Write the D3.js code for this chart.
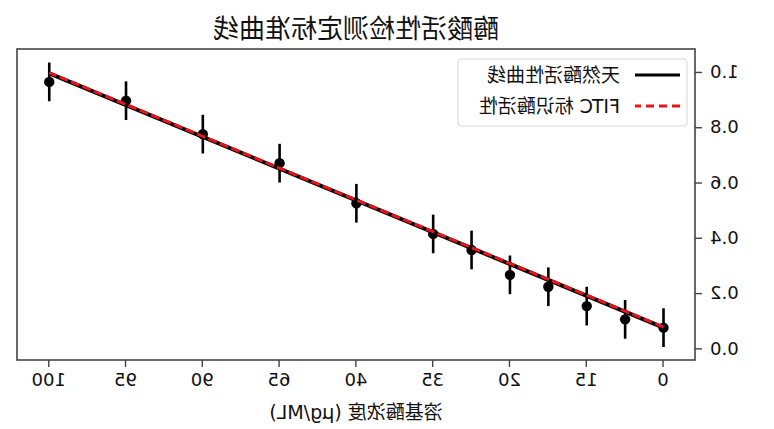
<!DOCTYPE html>
<html>
<head>
  <meta charset="utf-8">
  <title>酶酸活性检测定标准曲线</title>
  <script src="https://cdn.jsdelivr.net/npm/d3@7"></script>
  <style>
    body { margin: 0; background: #fff; }
    /* the reference picture is a mirror image, so the whole chart is flipped */
    #chart { transform: scaleX(-1); display: block; }
    text { font-family: "DejaVu Sans", "Noto Sans CJK SC", sans-serif; fill: #111; }
  </style>
</head>
<body>
  <svg id="chart" width="774" height="429"></svg>

  <script>
    // tick positions along x and the labels printed under them
    var tickPos = [0, 1, 2, 3, 4, 5, 6, 7, 8];
    var tickLabels = ['0', '15', '20', '35', '40', '65', '90', '95', '100'];
    var yTicks = [0.0, 0.2, 0.4, 0.6, 0.8, 1.0];

    // measured points (x in tick units)
    var pointX = [0, 0.5, 1, 1.5, 2, 2.5, 3, 4, 5, 6, 7, 8];
    var pointY = [0.075, 0.105, 0.153, 0.223, 0.266, 0.356, 0.414, 0.525, 0.670, 0.775, 0.896, 0.964];
    var pointErr = [0.07, 0.07, 0.07, 0.07, 0.07, 0.07, 0.07, 0.07, 0.07, 0.07, 0.07, 0.07];

    // fitted curves: [start, end]
    var lineX = [0, 8];
    var naturalY = [0.075, 0.995];
    var fitcY = [0.077, 0.997];

    var legendNames = ['天然酶活性曲线', 'FITC 标识酶活性'];

    var svg = d3.select('#chart'),
      margin = { left: 79, right: 17, top: 49, bottom: 69 },
      width = +svg.attr('width'),
      height = +svg.attr('height');

    var x = d3.scaleLinear().domain([-0.41, 8.42]).range([margin.left, width - margin.right]);
    var y = d3.scaleLinear().domain([-0.042, 1.083]).range([height - margin.bottom, margin.top]);

    // error bars
    svg.append('g')
      .selectAll('line')
      .data(pointX)
      .enter()
      .append('line')
      .attr('x1', (d, i) => x(d))
      .attr('x2', (d, i) => x(d))
      .attr('y1', (d, i) => y(pointY[i] - pointErr[i]))
      .attr('y2', (d, i) => y(pointY[i] + pointErr[i]))
      .attr('stroke', '#000')
      .attr('stroke-width', 2.6);

    svg.append('g')
      .selectAll('circle')
      .data(pointX)
      .enter()
      .append('circle')
      .attr('cx', d => x(d))
      .attr('cy', (d, i) => y(pointY[i]))
      .attr('r', 5.2)
      .attr('fill', '#000');

    var line = d3.line()
      .x((d, i) => x(lineX[i]))
      .y(d => y(d));

    svg.append('path')
      .attr('d', line(naturalY))
      .attr('fill', 'none')
      .attr('stroke', '#000')
      .attr('stroke-width', 4);

    svg.append('path')
      .attr('d', line(fitcY))
      .attr('fill', 'none')
      .attr('stroke', '#e8141a')
      .attr('stroke-width', 3)
      .attr('stroke-dasharray', '9,3.4');

    // frame
    svg.append('rect')
      .attr('x', margin.left)
      .attr('y', margin.top)
      .attr('width', width - margin.left - margin.right)
      .attr('height', height - margin.top - margin.bottom)
      .attr('fill', 'none')
      .attr('stroke', '#444')
      .attr('stroke-width', 1.6);

    var xAxis = svg.append('g')
      .attr('transform', 'translate(0,' + (height - margin.bottom) + ')')
      .call(d3.axisBottom(x).tickValues(tickPos).tickFormat((d, i) => tickLabels[i]).tickSize(7).tickPadding(6));

    var yAxis = svg.append('g')
      .attr('transform', 'translate(' + margin.left + ',0)')
      .call(d3.axisLeft(y).tickValues(yTicks).tickFormat(d3.format('.1f')).tickSize(7).tickPadding(8));

    [xAxis, yAxis].forEach(a => {
      a.select('.domain').remove();
      a.selectAll('.tick line').attr('stroke', '#444').attr('stroke-width', 1.4);
      a.selectAll('.tick text').style('font-size', '18px').attr('fill', '#111');
    });

    svg.append('text')
      .attr('x', (margin.left + width - margin.right) / 2)
      .attr('y', 38)
      .attr('text-anchor', 'middle')
      .style('font-size', '26px')
      .text('酶酸活性检测定标准曲线');

    svg.append('text')
      .attr('x', (margin.left + width - margin.right) / 2)
      .attr('y', 419)
      .attr('text-anchor', 'middle')
      .style('font-size', '19px')
      .text('溶基酶浓度 (μg/ML)');

    // legend
    var legend = svg.append('g');
    legend.append('rect')
      .attr('x', 87).attr('y', 59)
      .attr('width', 229).attr('height', 67)
      .attr('rx', 3)
      .attr('fill', '#fff')
      .attr('fill-opacity', 0.85)
      .attr('stroke', '#d6d6d6');

    var rows = [
      { color: '#000', dash: null, w: 3.2 },
      { color: '#e8141a', dash: '8,5', w: 2.8 }
    ];
    rows.forEach((r, i) => {
      var ly = 75 + i * 31;
      legend.append('line')
        .attr('x1', 94).attr('x2', 139)
        .attr('y1', ly).attr('y2', ly)
        .attr('stroke', r.color)
        .attr('stroke-width', r.w)
        .attr('stroke-dasharray', r.dash);
      legend.append('text')
        .attr('x', 154).attr('y', ly + 7)
        .style('font-size', '19px')
        .text(legendNames[i]);
    });
  </script>
</body>
</html>
